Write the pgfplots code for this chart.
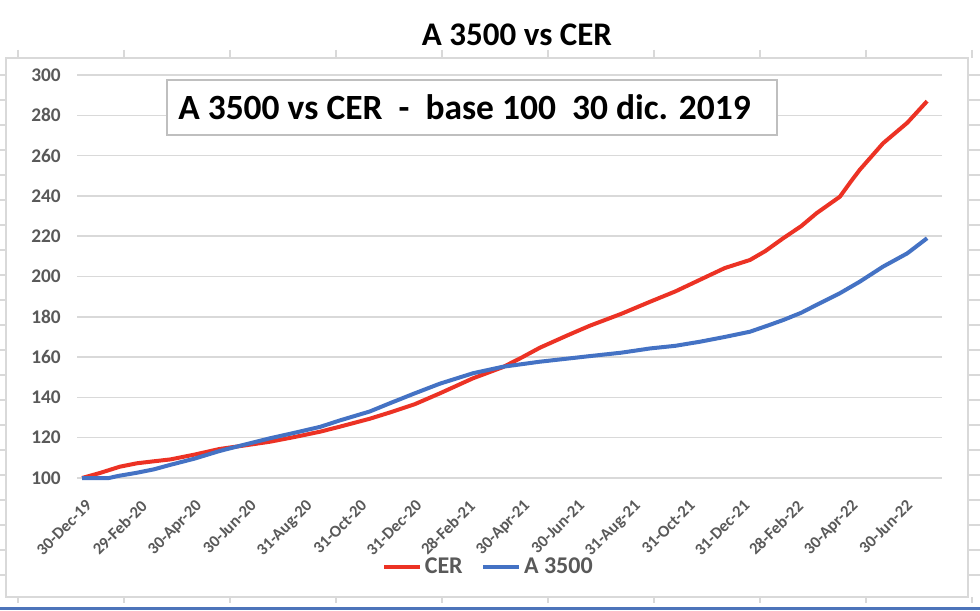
\documentclass[border=0pt]{standalone}
\usepackage{pgfplots}
\pgfplotsset{compat=1.18}
\usepackage{fontspec}
\setmainfont{Carlito}
\definecolor{cerred}{RGB}{236,50,36}
\definecolor{abl}{RGB}{68,114,196}
\definecolor{gridg}{RGB}{217,217,217}
\definecolor{txtg}{RGB}{89,89,89}
\definecolor{boxg}{RGB}{191,191,191}
\begin{document}
\begin{tikzpicture}
\path[use as bounding box] (0,0) rectangle (735pt,457.5pt);
% spreadsheet background lines
\foreach \k in {0,...,9} {
  \draw[gridg,line width=0.9pt] ({13.5pt+79.5pt*\k},420pt) -- ({13.5pt+79.5pt*\k},414pt);
  \draw[gridg,line width=0.9pt] ({13.5pt+79.5pt*\k},9.75pt) -- ({13.5pt+79.5pt*\k},5pt);
}
\foreach \k in {1,...,21} {
  \draw[gridg,line width=0.9pt] (0pt,{420pt-18.75pt*\k}) -- (4.5pt,{420pt-18.75pt*\k});
  \draw[gridg,line width=0.9pt] (726pt,{420pt-18.75pt*\k}) -- (735pt,{420pt-18.75pt*\k});
}
\draw[abl!85!gray,line width=1.8pt] (0pt,1.2pt) -- (735pt,1.2pt);
% chart area
\draw[gridg,line width=1.1pt,fill=white] (4.5pt,9.75pt) rectangle (726pt,414pt);
\node[font=\bfseries\fontsize{24.75}{30}\selectfont] at (387.75pt,431.25pt) {A 3500 vs CER};
\begin{axis}[
  at={(57.75pt,99pt)}, anchor=south west,
  scale only axis, width=648.75pt, height=302.25pt,
  xmin=-5.6, xmax=956.6, ymin=100, ymax=300,
  ytick={100,120,...,300},
  xtick={0,61,122,183,245,306,367,426,487,548,610,671,732,791,852,913},
  xticklabels={30-Dec-19,29-Feb-20,30-Apr-20,30-Jun-20,31-Aug-20,31-Oct-20,31-Dec-20,28-Feb-21,30-Apr-21,30-Jun-21,31-Aug-21,31-Oct-21,31-Dec-21,28-Feb-22,30-Apr-22,30-Jun-22},
  ymajorgrids, grid style={gridg,line width=1.1pt},
  axis line style={draw=none}, tick style={draw=none},
  /pgf/number format/assume math mode=true,
  yticklabel style={font=\bfseries\fontsize{14.5}{16}\selectfont, text=txtg, anchor=east, inner sep=0pt, xshift=-12pt},
  xticklabel style={font=\bfseries\fontsize{12.5}{14}\selectfont, text=txtg, rotate=45, anchor=north east, inner sep=0pt, xshift=-9.5pt, yshift=-12.5pt},
  legend columns=2,
  legend style={at={(rel axis cs:0.476,-0.221)}, anchor=center, draw=none, fill=none,
    font=\bfseries\fontsize{18}{20}\selectfont, text=txtg,
    /tikz/every even column/.append style={column sep=12pt},
    cells={inner sep=1pt}},
  legend image code/.code={\draw[#1] (0pt,0pt) -- (27pt,0pt);},
  clip=false,
]
\addplot[cerred, line width=3pt, line join=round] coordinates {
(0,100) (20,102.5) (42,105.6) (61,107.3) (80,108.3) (98,109.2) (125,111.6) (153,114.4)
(183,116.3) (209,118.0) (237,120.4) (265,123.0) (287,125.5) (320,129.4) (343,132.6)
(370,136.6) (398,142.0) (435,149.5) (468,155.0) (490,160.0) (509,164.6) (540,170.8)
(565,175.6) (600,181.5) (632,187.5) (660,192.6) (687,198.3) (715,204.2) (743,208.2)
(760,212.6) (780,219.0) (800,225.0) (817,231.4) (843,239.6) (855,247.0) (865,252.9)
(891,266.1) (918,276.3) (940,287.0)
};
\addlegendentry{CER}
\addplot[abl, line width=3pt, line join=round] coordinates {
(0,100) (30,100) (40,101) (61,102.6) (80,104.3) (98,106.5) (125,109.6) (153,113.4)
(183,116.8) (209,119.7) (237,122.5) (265,125.4) (287,128.6) (320,133.0) (343,137.2)
(370,142.0) (398,146.8) (435,152.0) (468,155.2) (509,157.7) (565,160.5) (600,162.2)
(632,164.3) (660,165.6) (687,167.6) (715,170.0) (743,172.6) (765,176.0) (780,178.4)
(800,182.0) (817,185.9) (843,191.7) (865,197.4) (891,204.9) (918,211.5) (940,219.0)
};
\addlegendentry{A 3500}
\end{axis}
% inset box
\draw[boxg,line width=0.9pt,fill=white] (125.25pt,356.25pt) rectangle (582.75pt,397.5pt);
\node[anchor=west, inner sep=0pt, font=\bfseries\fontsize{26.6}{30}\selectfont] at (133.5pt,376.9pt) {A 3500 vs CER\ \ -\ \ base 100\ \ 30 dic. 2019};
\end{tikzpicture}
\end{document}
